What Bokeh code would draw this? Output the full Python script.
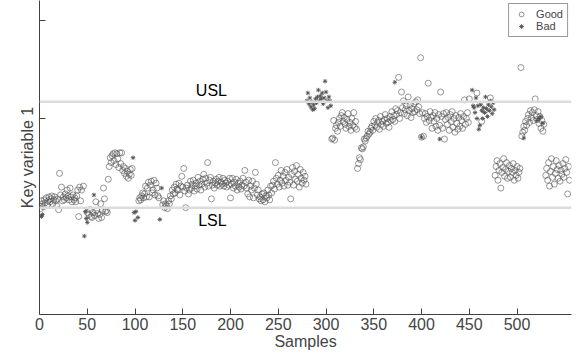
from bokeh.plotting import figure
from bokeh.models import Span, Label, FixedTicker, Legend, LegendItem
from bokeh.embed import file_html
from bokeh.resources import INLINE

# ---- data ----
good_x = [0, 1, 2, 3, 4, 5, 6, 7, 8, 9, 10, 11, 12, 13, 14, 15, 16, 17, 18, 19, 20, 21, 22, 23, 24, 25, 26, 27, 28, 29,
          30, 31, 32, 33, 34, 35, 36, 37, 38, 39, 40, 41, 42, 43, 44, 46,
          50, 52, 53, 54, 55, 56, 58, 59, 60, 61, 62, 63, 64, 65, 66, 67, 68, 69, 70, 71,
          72, 73, 74, 75, 76, 77, 78, 79, 80, 81, 82, 83, 84, 85, 86, 87, 88, 89, 90, 91, 92, 93, 94, 95, 96, 97,
          104, 105, 106, 107, 108, 109, 110, 111, 112, 113, 114, 115, 116, 117, 118, 119, 120, 121, 122, 123, 124, 125,
          129, 130, 131, 132, 133, 134, 135, 136, 137, 138, 139, 140, 141, 142, 143, 144, 145, 146, 147, 148, 149, 150,
          151, 152, 153, 154, 155, 156, 157, 158, 159, 160, 161, 162, 163, 164, 165, 166, 167, 168, 169, 170, 171, 172,
          173, 174, 175, 176, 177, 178, 179, 180, 181, 182, 183, 184, 185, 186, 187, 188, 189, 190, 191, 192, 193, 194,
          195, 196, 197, 198, 199, 200,
          201, 202, 203, 204, 205, 206, 207, 208, 209, 210, 211, 212, 213, 214, 215, 216, 217, 218, 219, 220, 221, 222,
          223, 224, 225, 226, 227, 228, 229, 230, 231, 232, 233, 234, 235, 236, 237, 238, 239, 240, 241, 242, 243, 244,
          245, 246, 247, 248, 249, 250, 251, 252, 253, 254, 255, 256, 257, 258, 259, 260, 261, 262, 263, 264, 265, 266,
          267, 268, 269, 270, 271, 272, 273, 274, 275, 276, 277, 278, 279,
          306, 307, 308, 309, 310, 311, 312, 313, 314, 315, 316, 317, 318, 319, 320, 321, 322, 323, 324, 325, 326, 327,
          328, 329, 330, 331, 332,
          333, 334, 335, 336, 337, 338, 339, 340, 341, 342, 343, 344, 345, 346, 347, 348, 349, 350, 351, 352, 353, 354,
          355, 356, 357, 358, 359, 360, 361, 362, 363, 364, 365, 366, 367, 368, 369, 370, 371, 372, 373, 374, 375, 376,
          377, 378, 379, 380, 381, 382, 383, 384, 385, 386, 387, 388, 389, 390, 391, 392, 393, 394, 395, 396, 397, 398,
          399, 400, 401, 402, 403, 404, 405, 406, 407, 408, 409, 410, 411, 412, 413, 414, 415, 416, 417, 418, 419, 420,
          421, 422, 423, 424, 425, 426, 427, 428, 429, 430, 431, 432, 433, 434, 435, 436, 437, 438, 439, 440, 441, 442,
          443, 444, 445, 446, 447, 448, 449, 450, 458, 463, 466, 472,
          477, 478, 479, 480, 481, 482, 483, 484, 485, 486, 487, 488, 489, 490, 491, 492, 493, 494, 495, 496, 497, 498,
          499, 500, 501, 502, 503,
          504, 505, 506, 507, 508, 509, 510, 511, 512, 513, 514, 515, 516, 517, 518, 519, 520, 521, 522, 523, 524, 525,
          526, 527, 528,
          530, 531, 532, 533, 534, 535, 536, 537, 538, 539, 540, 541, 542, 543, 544, 545, 546, 547, 548, 549, 550, 551,
          552, 553, 554, 555]

good_y = [1.11, 1.08, 1.16, 1.13, 1.10, 1.17, 1.14, 1.19, 1.12, 1.16, 1.20, 1.15, 1.18, 1.21, 1.13, 1.17, 1.20, 1.16,
          1.11, 1.18, 1.07, 1.44, 1.22, 1.30, 1.16, 1.20, 1.17, 1.23, 1.19, 1.27, 1.21, 1.17, 1.29, 1.20, 1.15, 1.22,
          1.17, 1.19, 1.15, 1.21, 1.27, 1.00, 1.30, 1.16, 1.27, 1.31,
          1.04, 1.02, 1.07, 1.00, 0.99, 1.04, 1.01, 1.15, 1.06, 1.03, 0.98, 1.02, 1.13, 0.99, 1.06, 1.29, 1.18, 1.05,
          1.06, 1.04,
          1.38, 1.51, 1.60, 1.55, 1.62, 1.64, 1.57, 1.65, 1.53, 1.64, 1.59, 1.50, 1.65, 1.54, 1.65, 1.47, 1.51, 1.44,
          1.49, 1.41, 1.46, 1.39, 1.43, 1.48, 1.42, 1.49,
          1.16, 1.19, 1.17, 1.21, 1.24, 1.19, 1.23, 1.31, 1.20, 1.29, 1.35, 1.20, 1.32, 1.36, 1.24, 1.27, 1.37, 1.22,
          1.34, 1.29, 1.21, 1.19,
          1.12, 1.16, 1.09, 1.13, 1.11, 1.08, 1.16, 1.13, 1.21, 1.18, 1.27, 1.23, 1.30, 1.24, 1.33, 1.28, 1.27, 1.34,
          1.22, 1.31, 1.41, 1.30, 1.49, 1.26, 1.09, 1.29, 1.32, 1.23, 1.27, 1.36, 1.29, 1.33, 1.37, 1.26, 1.31, 1.34,
          1.28, 1.40, 1.32, 1.36, 1.27, 1.33, 1.38, 1.43, 1.30, 1.39, 1.34, 1.55, 1.31, 1.37, 1.40, 1.18, 1.32, 1.36,
          1.29, 1.34, 1.38, 1.32, 1.36, 1.40, 1.31, 1.35, 1.33, 1.39, 1.31, 1.37, 1.34, 1.30, 1.36, 1.32, 1.39, 1.19,
          1.33, 1.39, 1.29, 1.35, 1.31, 1.38, 1.27, 1.34, 1.30, 1.36, 1.28, 1.32, 1.39, 1.31, 1.47, 1.35, 1.29, 1.23,
          1.37, 1.20, 1.31, 1.27, 1.36, 1.19, 1.29, 1.45, 1.33, 1.22, 1.27, 1.18, 1.20, 1.16, 1.23, 1.17, 1.24, 1.15,
          1.21, 1.19, 1.27, 1.22, 1.17, 1.31, 1.24, 1.32, 1.36, 1.28, 1.55, 1.39, 1.33, 1.42, 1.30, 1.37, 1.47, 1.34,
          1.41, 1.31, 1.45, 1.37, 1.48, 1.32, 1.40, 1.35, 1.18, 1.43, 1.50, 1.32, 1.46, 1.38, 1.52, 1.36, 1.43, 1.30,
          1.48, 1.39, 1.34, 1.45, 1.37, 1.41, 1.33,
          1.79, 1.80, 1.98, 1.78, 1.90, 1.93, 1.87, 1.96, 2.00, 1.92, 2.03, 2.06, 1.97, 2.01, 1.94, 1.90, 1.99, 2.05,
          1.92, 1.96, 1.88, 2.00, 1.93, 2.06, 1.91, 1.97, 1.89,
          1.49, 1.54, 1.60, 1.58, 1.70, 1.69, 1.71, 1.79, 1.77, 1.80, 1.82, 1.87, 1.84, 1.86, 1.90, 1.92, 1.88, 1.97,
          1.93, 2.00, 1.91, 1.96, 1.98, 1.89, 2.02, 1.94, 1.97, 1.92, 1.99, 2.04, 1.95, 2.00, 1.96, 1.91, 2.02, 1.98,
          2.07, 1.99, 2.03, 1.97, 2.10, 2.04, 2.08, 2.42, 2.00, 2.06, 2.27, 2.11, 2.18, 2.05, 2.09, 2.13, 2.03, 2.22,
          2.08, 2.14, 2.01, 2.10, 2.06, 2.15, 2.07, 2.17, 2.09, 2.19, 2.12, 2.05,
          2.62, 1.81, 2.06, 1.82, 2.00, 2.05, 1.96, 2.02, 2.36, 1.98, 2.07, 2.01, 1.90, 2.03, 1.97, 2.06, 1.92, 2.00,
          1.88, 2.04, 1.93, 2.27, 2.02, 1.90, 2.05, 1.79, 1.99, 2.06, 1.94, 2.01, 1.88, 2.04, 1.97, 2.07, 1.91, 2.00,
          1.86, 2.03, 1.95, 1.89, 2.01, 1.92, 2.05, 1.98, 1.90, 2.02, 2.19, 1.94, 2.00, 2.06, 1.96, 2.20, 2.26, 1.97,
          2.08, 2.21,
          1.42, 1.51, 1.57, 1.37, 1.47, 1.54, 1.29, 1.45, 1.50, 1.59, 1.41, 1.48, 1.55, 1.39, 1.46, 1.52, 1.40, 1.49,
          1.45, 1.54, 1.37, 1.47, 1.42, 1.51, 1.39, 1.45, 1.49,
          2.52, 1.82, 1.86, 1.92, 1.88, 1.97, 1.93, 2.00, 2.04, 1.96, 2.08, 2.01, 2.06, 1.98, 2.09, 2.20, 2.03, 1.99,
          2.07, 1.95, 2.02, 1.90, 1.98, 1.87, 1.94,
          1.42, 1.49, 1.37, 1.55, 1.31, 1.46, 1.59, 1.40, 1.51, 1.33, 1.44, 1.57, 1.48, 1.39, 1.52, 1.36, 1.47, 1.43,
          1.54, 1.40, 1.49, 1.58, 1.45, 1.23, 1.51, 1.37]

bad_x = [2, 3, 47, 48, 49, 50, 57, 98, 99, 100, 101, 103, 126, 128,
         280, 281, 282, 283, 284, 285, 286, 287, 288, 289, 290, 291, 292, 293, 294, 295, 296, 297, 298, 299, 300,
         301, 302, 303, 304, 305,
         372, 400, 419, 453, 454, 455, 456, 457, 458, 459, 460, 461, 462, 463, 464, 465, 466, 467, 468, 469, 470,
         471, 472, 473, 474, 475, 476, 507, 521, 523, 525, 527]
bad_y = [1.00, 1.02, 0.80, 1.05, 0.98, 0.94, 1.22, 1.60, 1.04, 0.96, 1.05, 0.99, 0.97, 1.29,
         2.18, 2.26, 2.15, 2.21, 2.12, 2.17, 2.09, 2.14, 2.10, 2.20, 2.16, 2.22, 2.29, 2.18, 2.23, 2.20, 2.26, 2.15,
         2.21, 2.38, 2.27, 2.18, 2.11, 2.22, 2.18, 2.13,
         2.37, 1.81, 1.79, 2.29, 2.13, 2.11, 2.06, 2.21, 2.00, 2.13, 1.89, 1.93, 2.14, 2.08, 2.00, 2.11, 2.06, 2.22,
         2.10, 2.02, 2.14, 2.08, 2.18, 2.12, 2.05, 2.16, 2.09, 1.80, 1.98, 2.00, 2.02, 1.95]

USL = 2.17
LSL = 1.09
x_ticks = [0, 50, 100, 150, 200, 250, 300, 350, 400, 450, 500]
y_ticks = [2, 3]

FONT = "Liberation Sans"
AX = "#404040"

p = figure(width=577, height=355, x_range=(0, 557), y_range=(0, 3.204),
           output_backend="svg", toolbar_location=None,
           min_border_left=39, min_border_right=6, min_border_top=0, min_border_bottom=41)
p.outline_line_color = None
p.xgrid.visible = False
p.ygrid.visible = False
p.background_fill_color = "white"
p.border_fill_color = "white"

p.add_layout(Span(location=USL, dimension="width", line_color="#dcdcdc", line_width=2.5))
p.add_layout(Span(location=LSL, dimension="width", line_color="#dcdcdc", line_width=2.5))

rg = p.scatter(good_x, good_y, marker="circle", size=6, fill_color=None,
               line_color="#505050", line_width=0.6)
rb = p.scatter(bad_x, bad_y, marker="asterisk", size=4.5, line_color="#505050", line_width=0.9)

p.add_layout(Label(x=180, y=USL, y_offset=3, text="USL", text_align="center", text_baseline="bottom",
                   text_font=FONT, text_font_size="16px", text_color="black"))
p.add_layout(Label(x=181, y=LSL, y_offset=-4, text="LSL", text_align="center", text_baseline="top",
                   text_font=FONT, text_font_size="16px", text_color="black"))

xa = p.xaxis[0]
xa.ticker = FixedTicker(ticks=x_ticks)
xa.axis_label = "Samples"
xa.axis_label_text_font = FONT
xa.axis_label_text_font_size = "16px"
xa.axis_label_text_font_style = "normal"
xa.axis_label_standoff = 0
xa.major_label_text_font = FONT
xa.major_label_text_font_size = "16px"
xa.major_label_standoff = 3
xa.major_tick_in = 6
xa.major_tick_out = 0
xa.minor_tick_line_color = None
xa.axis_line_color = AX
xa.major_tick_line_color = AX

ya = p.yaxis[0]
ya.ticker = FixedTicker(ticks=y_ticks)
ya.major_label_overrides = {2: "", 3: ""}
ya.major_label_text_font_size = "0px"
ya.major_label_standoff = 0
ya.axis_label = "Key variable 1"
ya.axis_label_text_font = FONT
ya.axis_label_text_font_size = "16px"
ya.axis_label_text_font_style = "normal"
ya.axis_label_standoff = 4
ya.major_tick_in = 6
ya.major_tick_out = 0
ya.minor_tick_line_color = None
ya.axis_line_color = AX
ya.major_tick_line_color = AX

legend = Legend(items=[LegendItem(label="Good", renderers=[rg]), LegendItem(label="Bad", renderers=[rb])],
                location="top_right", margin=3, padding=4, spacing=0,
                glyph_width=16, glyph_height=12, label_height=12, label_standoff=7,
                label_text_font=FONT, label_text_font_size="11px",
                border_line_color="#333333", border_line_width=1, background_fill_alpha=1.0)
p.add_layout(legend)

open("out.html", "w").write(file_html(p, INLINE))
